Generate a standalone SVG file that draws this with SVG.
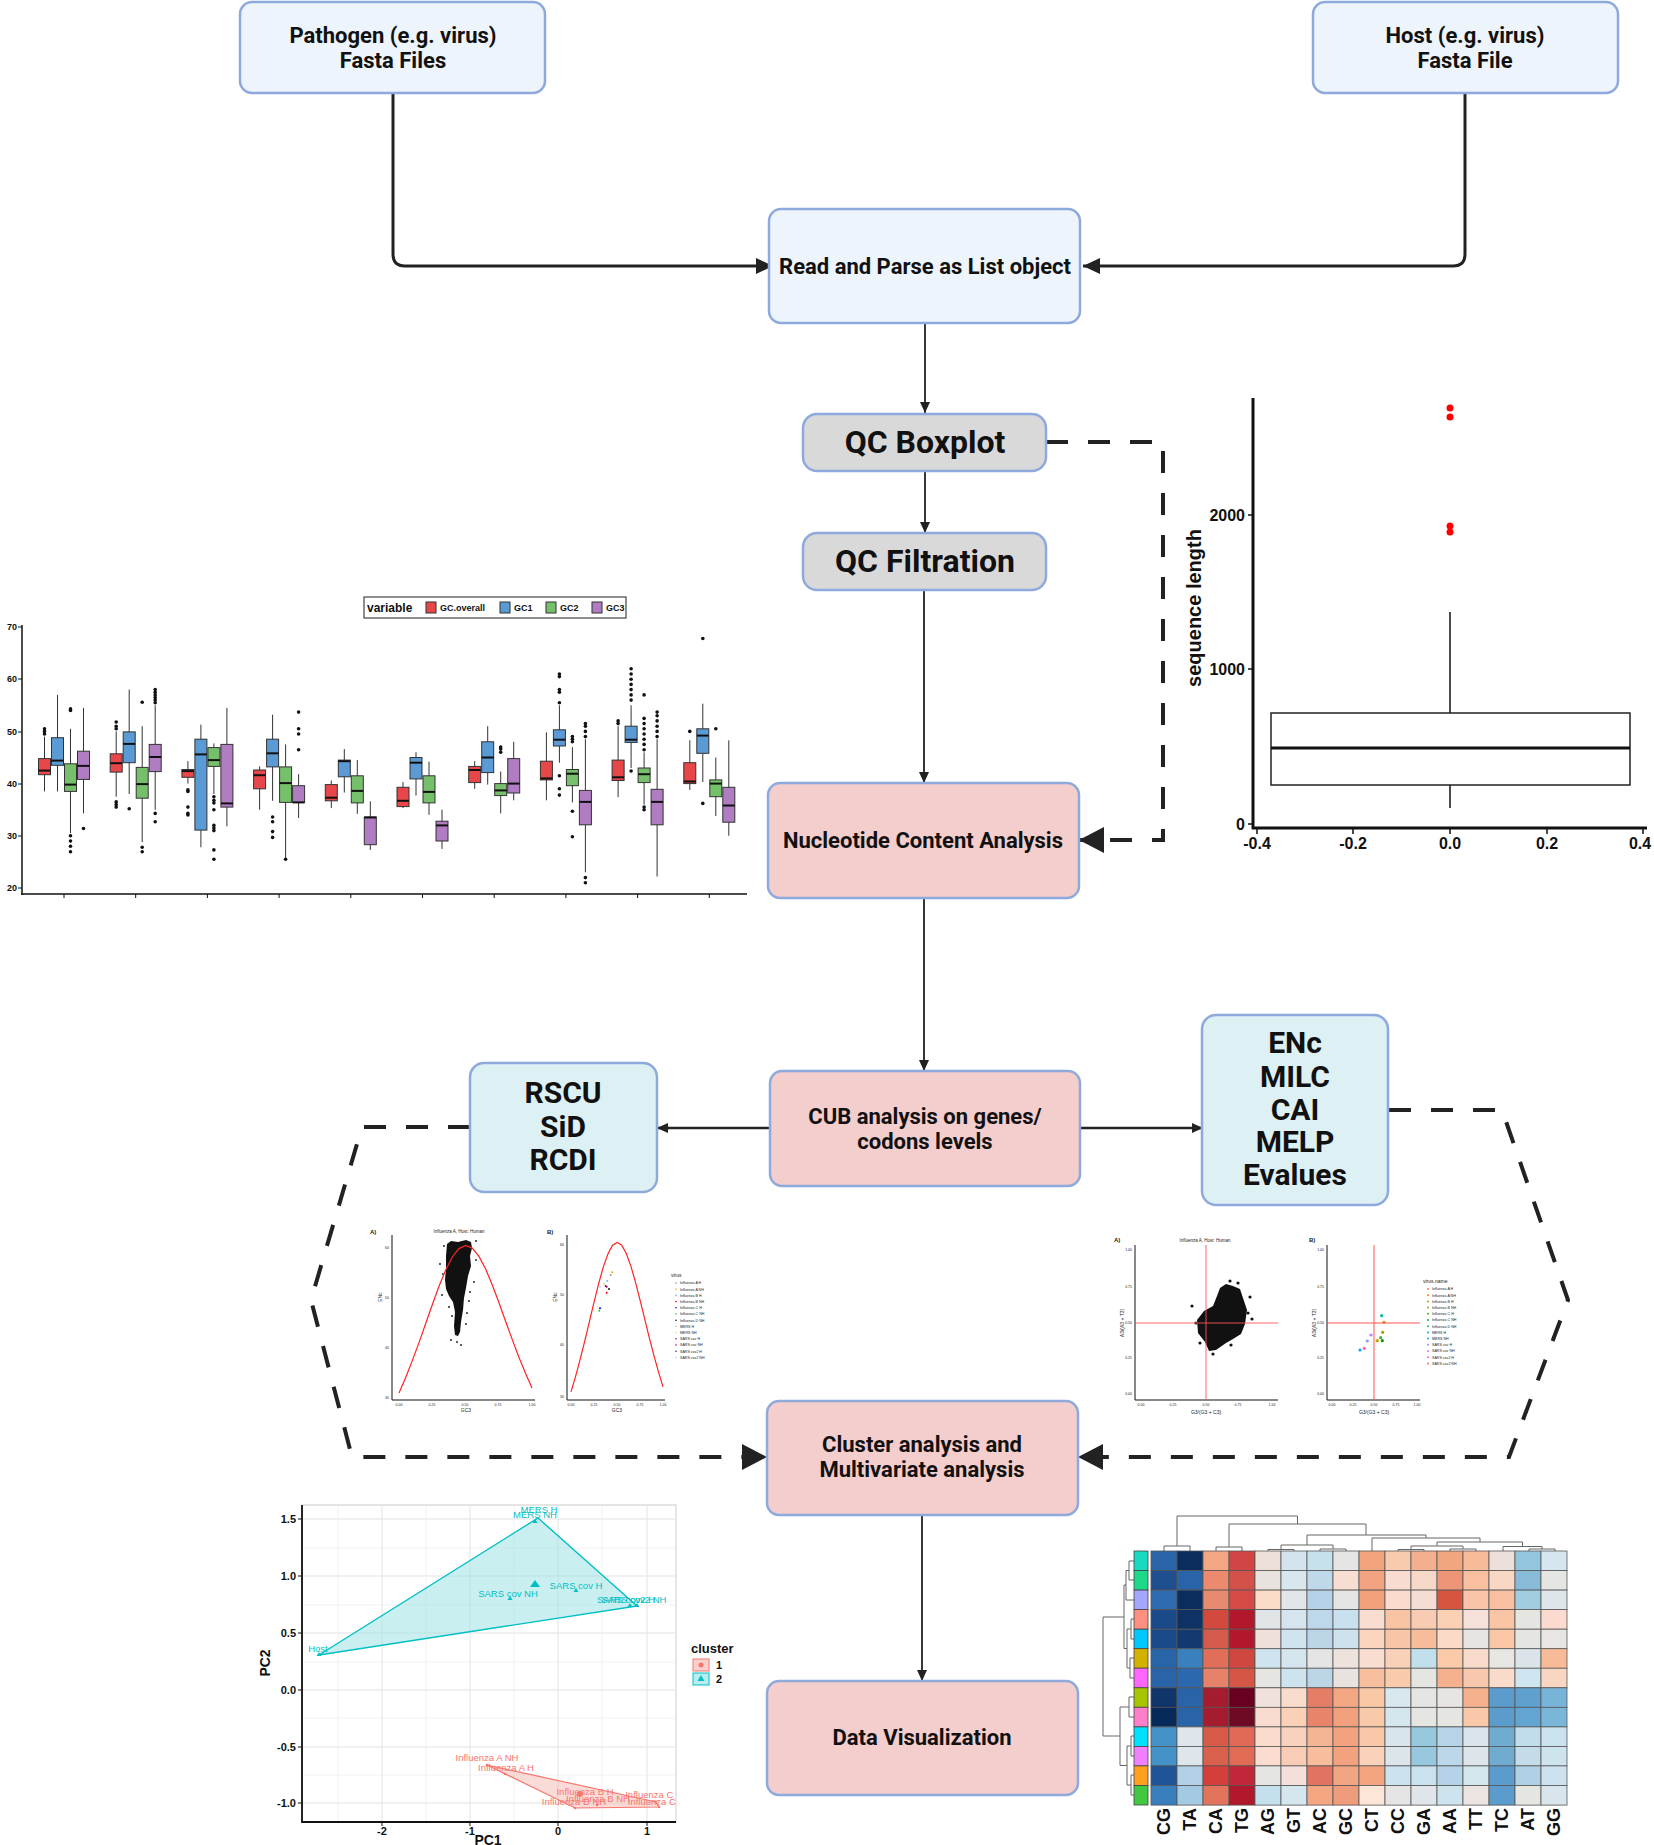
<svg xmlns="http://www.w3.org/2000/svg" width="1654" height="1845" viewBox="0 0 1654 1845">
<defs>
<style>
.nd{stroke:#8EA9DB;stroke-width:2.5}
.in{fill:#EEF4FB}.qc{fill:#D9D9D9}.pk{fill:#F4CDCD}.cy{fill:#DDF0F4}
.t{font-family:Roboto,"Liberation Sans",sans-serif;font-weight:700;fill:#111;text-anchor:middle}
.t20{font-size:22px}.t30{font-size:32px}.t28{font-size:30px}
.ln{fill:none;stroke:#222}
.ds{fill:none;stroke:#222;stroke-width:4;stroke-dasharray:22 20}
.ax{stroke:#111;fill:none}
.tk{font-family:"Liberation Sans",Arial,sans-serif;font-weight:700;fill:#111}
.wk{stroke:#333;stroke-width:1}
.bx{stroke:#333;stroke-width:1}
.md{stroke:#111;stroke-width:2}
.r{fill:#E8474A}.b{fill:#5B9BD5}.g{fill:#77C06B}.p{fill:#B07CC2}
.od circle{fill:#111}
.sm{font-family:"Liberation Sans",Arial,sans-serif;fill:#222}
.hm rect{width:26px;height:19.6px;stroke:#555;stroke-width:0.8}
.gr{stroke:#ebebeb}
</style>
<marker id="ah" markerUnits="userSpaceOnUse" markerWidth="12" markerHeight="10" refX="11" refY="5" orient="auto"><path d="M0,0 L11,5 L0,10 z" fill="#222"/></marker>
<marker id="aht" markerUnits="userSpaceOnUse" markerWidth="18" markerHeight="16" refX="17" refY="8" orient="auto"><path d="M0,0 L17,8 L0,16 z" fill="#222"/></marker>
<marker id="ahb" markerUnits="userSpaceOnUse" markerWidth="26" markerHeight="26" refX="25" refY="13" orient="auto"><path d="M0,0 L25,13 L0,26 z" fill="#222"/></marker>
<clipPath id="pcaclip"><rect x="302" y="1505" width="374" height="317"/></clipPath>
</defs>
<rect width="1654" height="1845" fill="#fff"/>

<!-- connectors -->
<g id="connectors">
<path class="ln" stroke-width="3" d="M393,93 V254 Q393,266 405,266 H773" marker-end="url(#aht)"/>
<path class="ln" stroke-width="3" d="M1465,93 V254 Q1465,266 1453,266 H1083" marker-end="url(#aht)"/>
<path class="ln" stroke-width="1.8" d="M925,323 V413" marker-end="url(#ah)"/>
<path class="ln" stroke-width="1.8" d="M925,471 V533" marker-end="url(#ah)"/>
<path class="ln" stroke-width="1.8" d="M924,590 V783" marker-end="url(#ah)"/>
<path class="ln" stroke-width="1.8" d="M924,898 V1071" marker-end="url(#ah)"/>
<path class="ln" stroke-width="2.5" d="M770,1128 H657" marker-end="url(#ah)"/>
<path class="ln" stroke-width="2.5" d="M1080,1128 H1203" marker-end="url(#ah)"/>
<path class="ln" stroke-width="1.8" d="M922,1515 V1681" marker-end="url(#ah)"/>
<path class="ds" d="M1046,442 H1163 V840 H1079" marker-end="url(#ahb)"/>
<path class="ds" d="M470,1127 H362 L311,1300 L352,1457 H767" marker-end="url(#ahb)"/>
<path class="ds" d="M1389,1110 H1502 L1568,1300 L1509,1457 H1078" marker-end="url(#ahb)"/>
</g>

<!-- nodes -->
<g id="node-pathogen"><rect class="nd in" x="240" y="2" width="305" height="91" rx="12"/><text class="t t20" x="393" y="43">Pathogen (e.g. virus)</text><text class="t t20" x="393" y="68">Fasta Files</text></g>
<g id="node-host"><rect class="nd in" x="1313" y="2" width="305" height="91" rx="12"/><text class="t t20" x="1465" y="43">Host (e.g. virus)</text><text class="t t20" x="1465" y="68">Fasta File</text></g>
<g id="node-read"><rect class="nd in" x="769" y="209" width="311" height="114" rx="12"/><text class="t t20" x="925" y="274">Read and Parse as List object</text></g>
<g id="node-qcbox"><rect class="nd qc" x="803" y="414" width="243" height="57" rx="14"/><text class="t t30" x="925" y="453">QC Boxplot</text></g>
<g id="node-qcfilt"><rect class="nd qc" x="803" y="533" width="243" height="57" rx="14"/><text class="t t30" x="925" y="572">QC Filtration</text></g>
<g id="node-nucleotide"><rect class="nd pk" x="768" y="783" width="311" height="115" rx="12"/><text class="t t20" x="923" y="848">Nucleotide Content Analysis</text></g>
<g id="node-cub"><rect class="nd pk" x="770" y="1071" width="310" height="115" rx="12"/><text class="t t20" x="925" y="1124">CUB analysis on genes/</text><text class="t t20" x="925" y="1149">codons levels</text></g>
<g id="node-rscu"><rect class="nd cy" x="470" y="1063" width="187" height="129" rx="14"/><text class="t t28" x="563" y="1103">RSCU</text><text class="t t28" x="563" y="1137">SiD</text><text class="t t28" x="563" y="1170">RCDI</text></g>
<g id="node-enc"><rect class="nd cy" x="1202" y="1015" width="186" height="190" rx="14"/><text class="t t28" x="1295" y="1053">ENc</text><text class="t t28" x="1295" y="1087">MILC</text><text class="t t28" x="1295" y="1120">CAI</text><text class="t t28" x="1295" y="1152">MELP</text><text class="t t28" x="1295" y="1185">Evalues</text></g>
<g id="node-cluster"><rect class="nd pk" x="767" y="1401" width="311" height="114" rx="12"/><text class="t t20" x="922" y="1452">Cluster analysis and</text><text class="t t20" x="922" y="1477">Multivariate analysis</text></g>
<g id="node-dataviz"><rect class="nd pk" x="767" y="1681" width="311" height="114" rx="12"/><text class="t t20" x="922" y="1745">Data Visualization</text></g>

<!-- sequence length boxplot -->
<g id="seqlen-plot">
<line class="ax" stroke-width="3" x1="1253" y1="398" x2="1253" y2="829"/>
<line class="ax" stroke-width="3" x1="1252" y1="828" x2="1647" y2="828"/>
<g class="ax" stroke-width="1.5"><path d="M1248,515 H1253 M1248,669 H1253 M1248,824 H1253 M1257,829 V834 M1353,829 V834 M1450,829 V834 M1547,829 V834 M1643,829 V834"/></g>
<g class="tk" font-size="16" text-anchor="end"><text x="1245" y="521">2000</text><text x="1245" y="675">1000</text><text x="1245" y="830">0</text></g>
<g class="tk" font-size="16" text-anchor="middle"><text x="1257" y="849">-0.4</text><text x="1353" y="849">-0.2</text><text x="1450" y="849">0.0</text><text x="1547" y="849">0.2</text><text x="1640" y="849">0.4</text></g>
<text class="tk" font-size="20" text-anchor="middle" transform="translate(1201,608) rotate(-90)">sequence length</text>
<line class="ax" stroke-width="1.5" x1="1450" y1="612" x2="1450" y2="713"/>
<line class="ax" stroke-width="1.5" x1="1450" y1="785" x2="1450" y2="808"/>
<rect x="1271" y="713" width="359" height="72" fill="#fff" stroke="#222" stroke-width="1.5"/>
<line class="ax" stroke-width="3" x1="1271" y1="748" x2="1630" y2="748"/>
<g fill="#f00"><circle cx="1450" cy="408" r="3.5"/><circle cx="1450" cy="417" r="3.5"/><circle cx="1450" cy="526" r="3.5"/><circle cx="1450" cy="532" r="3.5"/></g>
</g>

<!-- GC content boxplot -->
<g id="gc-plot">
<rect x="364" y="597" width="262" height="21" fill="#fff" stroke="#444" stroke-width="1.2"/>
<text class="tk" font-size="12" font-weight="400" x="367" y="612">variable</text>
<rect class="bx r" x="426" y="602" width="10" height="11"/><text class="tk" font-size="9" x="440" y="611">GC.overall</text>
<rect class="bx b" x="500" y="602" width="10" height="11"/><text class="tk" font-size="9" x="514" y="611">GC1</text>
<rect class="bx g" x="546" y="602" width="10" height="11"/><text class="tk" font-size="9" x="560" y="611">GC2</text>
<rect class="bx p" x="592" y="602" width="10" height="11"/><text class="tk" font-size="9" x="606" y="611">GC3</text>
<line class="ax" stroke-width="1.5" x1="22" y1="625" x2="22" y2="895"/>
<line class="ax" stroke-width="1.5" x1="21" y1="894" x2="747" y2="894"/>
<path class="ax" stroke-width="1" d="M18,627 H22 M18,679 H22 M18,732 H22 M18,784 H22 M18,836 H22 M18,888 H22 M64,894 V898 M135.7,894 V898 M207.4,894 V898 M279.1,894 V898 M350.8,894 V898 M422.5,894 V898 M494.2,894 V898 M565.9,894 V898 M637.6,894 V898 M709.3,894 V898"/>
<g class="tk" font-size="9" text-anchor="end"><text x="17" y="630">70</text><text x="17" y="682">60</text><text x="17" y="735">50</text><text x="17" y="787">40</text><text x="17" y="839">30</text><text x="17" y="891">20</text></g>

<g transform="translate(64,0)">
<line class="wk" x1="-19.5" y1="791.4" x2="-19.5" y2="736.6"/><rect class="bx r" x="-25.5" y="758.6" width="12" height="16.1"/><line class="md" x1="-25.5" x2="-13.5" y1="770.6" y2="770.6"/>
<line class="wk" x1="-6.5" y1="791.4" x2="-6.5" y2="694.9"/><rect class="bx b" x="-12.5" y="737.7" width="12" height="27.6"/><line class="md" x1="-12.5" x2="-0.5" y1="760.6" y2="760.6"/>
<line class="wk" x1="6.5" y1="833.2" x2="6.5" y2="728.8"/><rect class="bx g" x="0.5" y="763.8" width="12" height="27.6"/><line class="md" x1="0.5" x2="12.5" y1="784.6" y2="784.6"/>
<line class="wk" x1="19.5" y1="813.4" x2="19.5" y2="707.9"/><rect class="bx p" x="13.5" y="751.2" width="12" height="28.2"/><line class="md" x1="13.5" x2="25.5" y1="765.9" y2="765.9"/>
<g class="od"><circle cx="-19.5" cy="734" r="1.8"/><circle cx="-19.5" cy="731.4" r="1.8"/><circle cx="-19.5" cy="728.8" r="1.8"/><circle cx="6.5" cy="851.8" r="1.8"/><circle cx="6.5" cy="846.2" r="1.8"/><circle cx="6.5" cy="841" r="1.8"/><circle cx="6.5" cy="835.8" r="1.8"/><circle cx="6.5" cy="710.5" r="1.8"/><circle cx="6.5" cy="708.9" r="1.8"/><circle cx="19.5" cy="828.5" r="1.8"/></g>
</g>
<g transform="translate(135.7,0)">
<line class="wk" x1="-19.5" y1="796.7" x2="-19.5" y2="731.4"/><rect class="bx r" x="-25.5" y="753.8" width="12" height="18.3"/><line class="md" x1="-25.5" x2="-13.5" y1="763.2" y2="763.2"/>
<line class="wk" x1="-6.5" y1="794" x2="-6.5" y2="689.6"/><rect class="bx b" x="-12.5" y="731.9" width="12" height="30.8"/><line class="md" x1="-12.5" x2="-0.5" y1="743.9" y2="743.9"/>
<line class="wk" x1="6.5" y1="842.1" x2="6.5" y2="726.2"/><rect class="bx g" x="0.5" y="767.4" width="12" height="30.8"/><line class="md" x1="0.5" x2="12.5" y1="784.1" y2="784.1"/>
<line class="wk" x1="19.5" y1="809.7" x2="19.5" y2="705.3"/><rect class="bx p" x="13.5" y="744.4" width="12" height="27.2"/><line class="md" x1="13.5" x2="25.5" y1="757" y2="757"/>
<g class="od"><circle cx="-19.5" cy="728.8" r="1.8"/><circle cx="-19.5" cy="726.2" r="1.8"/><circle cx="-19.5" cy="722" r="1.8"/><circle cx="-19.5" cy="807.1" r="1.8"/><circle cx="-19.5" cy="804.5" r="1.8"/><circle cx="-19.5" cy="801.9" r="1.8"/><circle cx="-6.5" cy="808.7" r="1.8"/><circle cx="6.5" cy="851.8" r="1.8"/><circle cx="6.5" cy="847.3" r="1.8"/><circle cx="6.5" cy="702.2" r="1.8"/><circle cx="19.5" cy="702.7" r="1.8"/><circle cx="19.5" cy="700.1" r="1.8"/><circle cx="19.5" cy="697.5" r="1.8"/><circle cx="19.5" cy="694.9" r="1.8"/><circle cx="19.5" cy="692.2" r="1.8"/><circle cx="19.5" cy="689.6" r="1.8"/><circle cx="19.5" cy="821.7" r="1.8"/><circle cx="19.5" cy="813.4" r="1.8"/></g>
</g>
<g transform="translate(207.4,0)">
<line class="wk" x1="-19.5" y1="783.6" x2="-19.5" y2="761.2"/><rect class="bx r" x="-25.5" y="769.5" width="12" height="7.8"/><line class="md" x1="-25.5" x2="-13.5" y1="771.1" y2="771.1"/>
<line class="wk" x1="-6.5" y1="847.3" x2="-6.5" y2="724.6"/><rect class="bx b" x="-12.5" y="739.2" width="12" height="90.9"/><line class="md" x1="-12.5" x2="-0.5" y1="754.4" y2="754.4"/>
<line class="wk" x1="6.5" y1="794" x2="6.5" y2="743.4"/><rect class="bx g" x="0.5" y="747.6" width="12" height="18.8"/><line class="md" x1="0.5" x2="12.5" y1="760.1" y2="760.1"/>
<line class="wk" x1="19.5" y1="826.4" x2="19.5" y2="707.9"/><rect class="bx p" x="13.5" y="744.4" width="12" height="62.7"/><line class="md" x1="13.5" x2="25.5" y1="803.4" y2="803.4"/>
<g class="od"><circle cx="-19.5" cy="791.4" r="1.8"/><circle cx="-19.5" cy="789.9" r="1.8"/><circle cx="-19.5" cy="807.1" r="1.8"/><circle cx="-19.5" cy="813.4" r="1.8"/><circle cx="-19.5" cy="814.9" r="1.8"/><circle cx="6.5" cy="796.7" r="1.8"/><circle cx="6.5" cy="800.3" r="1.8"/><circle cx="6.5" cy="802.9" r="1.8"/><circle cx="6.5" cy="809.7" r="1.8"/><circle cx="6.5" cy="825.4" r="1.8"/><circle cx="6.5" cy="828" r="1.8"/><circle cx="6.5" cy="830.6" r="1.8"/><circle cx="6.5" cy="849.9" r="1.8"/><circle cx="6.5" cy="859.3" r="1.8"/></g>
</g>
<g transform="translate(279.1,0)">
<line class="wk" x1="-19.5" y1="809.7" x2="-19.5" y2="766.4"/><rect class="bx r" x="-25.5" y="770" width="12" height="18.8"/><line class="md" x1="-25.5" x2="-13.5" y1="775.2" y2="775.2"/>
<line class="wk" x1="-6.5" y1="800.8" x2="-6.5" y2="714.7"/><rect class="bx b" x="-12.5" y="739.2" width="12" height="27.7"/><line class="md" x1="-12.5" x2="-0.5" y1="753.3" y2="753.3"/>
<line class="wk" x1="6.5" y1="859.3" x2="6.5" y2="744.4"/><rect class="bx g" x="0.5" y="766.9" width="12" height="35.5"/><line class="md" x1="0.5" x2="12.5" y1="783.1" y2="783.1"/>
<line class="wk" x1="19.5" y1="818" x2="19.5" y2="774.2"/><rect class="bx p" x="13.5" y="785.7" width="12" height="16.7"/><line class="md" x1="13.5" x2="25.5" y1="802.4" y2="802.4"/>
<g class="od"><circle cx="-6.5" cy="817" r="1.8"/><circle cx="-6.5" cy="821.7" r="1.8"/><circle cx="-6.5" cy="831.6" r="1.8"/><circle cx="-6.5" cy="837.4" r="1.8"/><circle cx="6.5" cy="859.3" r="1.8"/><circle cx="19.5" cy="749.7" r="1.8"/><circle cx="19.5" cy="734" r="1.8"/><circle cx="19.5" cy="728.8" r="1.8"/><circle cx="19.5" cy="712.1" r="1.8"/></g>
</g>
<g transform="translate(350.8,0)">
<line class="wk" x1="-19.5" y1="808.1" x2="-19.5" y2="780.5"/><rect class="bx r" x="-25.5" y="784.6" width="12" height="16.2"/><line class="md" x1="-25.5" x2="-13.5" y1="797.7" y2="797.7"/>
<line class="wk" x1="-6.5" y1="792.5" x2="-6.5" y2="749.1"/><rect class="bx b" x="-12.5" y="760.1" width="12" height="16.7"/><line class="md" x1="-12.5" x2="-0.5" y1="761.2" y2="761.2"/>
<line class="wk" x1="6.5" y1="813.9" x2="6.5" y2="760.1"/><rect class="bx g" x="0.5" y="775.8" width="12" height="27.1"/><line class="md" x1="0.5" x2="12.5" y1="790.9" y2="790.9"/>
<line class="wk" x1="19.5" y1="849.9" x2="19.5" y2="801.3"/><rect class="bx p" x="13.5" y="817" width="12" height="27.7"/><line class="md" x1="13.5" x2="25.5" y1="817.5" y2="817.5"/>
</g>
<g transform="translate(422.5,0)">
<line class="wk" x1="-19.5" y1="808.1" x2="-19.5" y2="782"/><rect class="bx r" x="-25.5" y="787.3" width="12" height="19.3"/><line class="md" x1="-25.5" x2="-13.5" y1="800.8" y2="800.8"/>
<line class="wk" x1="-6.5" y1="795.6" x2="-6.5" y2="752.3"/><rect class="bx b" x="-12.5" y="757.5" width="12" height="21.4"/><line class="md" x1="-12.5" x2="-0.5" y1="762.7" y2="762.7"/>
<line class="wk" x1="6.5" y1="814.9" x2="6.5" y2="761.7"/><rect class="bx g" x="0.5" y="775.8" width="12" height="27.1"/><line class="md" x1="0.5" x2="12.5" y1="791.9" y2="791.9"/>
<line class="wk" x1="19.5" y1="848.9" x2="19.5" y2="809.7"/><rect class="bx p" x="13.5" y="821.2" width="12" height="19.8"/><line class="md" x1="13.5" x2="25.5" y1="825.4" y2="825.4"/>
</g>
<g transform="translate(494.2,0)">
<line class="wk" x1="-19.5" y1="788.8" x2="-19.5" y2="761.2"/><rect class="bx r" x="-25.5" y="766.4" width="12" height="16.2"/><line class="md" x1="-25.5" x2="-13.5" y1="770" y2="770"/>
<line class="wk" x1="-6.5" y1="784.6" x2="-6.5" y2="726.2"/><rect class="bx b" x="-12.5" y="741.8" width="12" height="30.8"/><line class="md" x1="-12.5" x2="-0.5" y1="757.5" y2="757.5"/>
<line class="wk" x1="6.5" y1="813.4" x2="6.5" y2="771.6"/><rect class="bx g" x="0.5" y="783.6" width="12" height="12"/><line class="md" x1="0.5" x2="12.5" y1="790.4" y2="790.4"/>
<line class="wk" x1="19.5" y1="800.3" x2="19.5" y2="741.8"/><rect class="bx p" x="13.5" y="758.6" width="12" height="34.4"/><line class="md" x1="13.5" x2="25.5" y1="783.6" y2="783.6"/>
<g class="od"><circle cx="6.5" cy="752.3" r="1.8"/><circle cx="6.5" cy="749.1" r="1.8"/><circle cx="6.5" cy="747.1" r="1.8"/></g>
</g>
<g transform="translate(565.9,0)">
<line class="wk" x1="-19.5" y1="800.3" x2="-19.5" y2="732.4"/><rect class="bx r" x="-25.5" y="761.2" width="12" height="18.7"/><line class="md" x1="-25.5" x2="-13.5" y1="778.4" y2="778.4"/>
<line class="wk" x1="-6.5" y1="762.7" x2="-6.5" y2="705.3"/><rect class="bx b" x="-12.5" y="729.8" width="12" height="16.2"/><line class="md" x1="-12.5" x2="-0.5" y1="739.7" y2="739.7"/>
<line class="wk" x1="6.5" y1="802.4" x2="6.5" y2="747.1"/><rect class="bx g" x="0.5" y="769.5" width="12" height="16.2"/><line class="md" x1="0.5" x2="12.5" y1="773.7" y2="773.7"/>
<line class="wk" x1="19.5" y1="872.3" x2="19.5" y2="739.2"/><rect class="bx p" x="13.5" y="790.4" width="12" height="34.4"/><line class="md" x1="13.5" x2="25.5" y1="801.9" y2="801.9"/>
<g class="od"><circle cx="-6.5" cy="702.7" r="1.8"/><circle cx="-6.5" cy="692.2" r="1.8"/><circle cx="-6.5" cy="689.6" r="1.8"/><circle cx="-6.5" cy="676.6" r="1.8"/><circle cx="-6.5" cy="674" r="1.8"/><circle cx="-6.5" cy="775.8" r="1.8"/><circle cx="-6.5" cy="788.8" r="1.8"/><circle cx="-6.5" cy="795.1" r="1.8"/><circle cx="6.5" cy="741.8" r="1.8"/><circle cx="6.5" cy="739.2" r="1.8"/><circle cx="6.5" cy="736.6" r="1.8"/><circle cx="6.5" cy="811.3" r="1.8"/><circle cx="6.5" cy="836.8" r="1.8"/><circle cx="19.5" cy="736.6" r="1.8"/><circle cx="19.5" cy="731.4" r="1.8"/><circle cx="19.5" cy="726.2" r="1.8"/><circle cx="19.5" cy="723.6" r="1.8"/><circle cx="19.5" cy="882.8" r="1.8"/><circle cx="19.5" cy="877.6" r="1.8"/></g>
</g>
<g transform="translate(637.6,0)">
<line class="wk" x1="-19.5" y1="797.2" x2="-19.5" y2="726.2"/><rect class="bx r" x="-25.5" y="760.1" width="12" height="20.4"/><line class="md" x1="-25.5" x2="-13.5" y1="777.3" y2="777.3"/>
<line class="wk" x1="-6.5" y1="768" x2="-6.5" y2="705.3"/><rect class="bx b" x="-12.5" y="726.2" width="12" height="16.2"/><line class="md" x1="-12.5" x2="-0.5" y1="739.7" y2="739.7"/>
<line class="wk" x1="6.5" y1="804.5" x2="6.5" y2="752.3"/><rect class="bx g" x="0.5" y="768" width="12" height="14.6"/><line class="md" x1="0.5" x2="12.5" y1="774.2" y2="774.2"/>
<line class="wk" x1="19.5" y1="876.5" x2="19.5" y2="739.2"/><rect class="bx p" x="13.5" y="789.3" width="12" height="35.5"/><line class="md" x1="13.5" x2="25.5" y1="801.9" y2="801.9"/>
<g class="od"><circle cx="-19.5" cy="723.6" r="1.8"/><circle cx="-19.5" cy="720.9" r="1.8"/><circle cx="-6.5" cy="700.1" r="1.8"/><circle cx="-6.5" cy="694.9" r="1.8"/><circle cx="-6.5" cy="689.6" r="1.8"/><circle cx="-6.5" cy="684.4" r="1.8"/><circle cx="-6.5" cy="679.2" r="1.8"/><circle cx="-6.5" cy="674" r="1.8"/><circle cx="-6.5" cy="668.8" r="1.8"/><circle cx="-6.5" cy="771" r="1.8"/><circle cx="6.5" cy="749.7" r="1.8"/><circle cx="6.5" cy="744.4" r="1.8"/><circle cx="6.5" cy="739.2" r="1.8"/><circle cx="6.5" cy="734" r="1.8"/><circle cx="6.5" cy="728.8" r="1.8"/><circle cx="6.5" cy="723.6" r="1.8"/><circle cx="6.5" cy="718.4" r="1.8"/><circle cx="6.5" cy="807.1" r="1.8"/><circle cx="6.5" cy="809.7" r="1.8"/><circle cx="6.5" cy="694.9" r="1.8"/><circle cx="19.5" cy="736.6" r="1.8"/><circle cx="19.5" cy="731.4" r="1.8"/><circle cx="19.5" cy="726.2" r="1.8"/><circle cx="19.5" cy="720.9" r="1.8"/><circle cx="19.5" cy="715.7" r="1.8"/><circle cx="19.5" cy="712.1" r="1.8"/></g>
</g>
<g transform="translate(709.3,0)">
<line class="wk" x1="-19.5" y1="789.9" x2="-19.5" y2="740.3"/><rect class="bx r" x="-25.5" y="762.7" width="12" height="20.9"/><line class="md" x1="-25.5" x2="-13.5" y1="781.5" y2="781.5"/>
<line class="wk" x1="-6.5" y1="782" x2="-6.5" y2="703.7"/><rect class="bx b" x="-12.5" y="728.8" width="12" height="24.5"/><line class="md" x1="-12.5" x2="-0.5" y1="735.6" y2="735.6"/>
<line class="wk" x1="6.5" y1="816" x2="6.5" y2="757.5"/><rect class="bx g" x="0.5" y="779.9" width="12" height="16.8"/><line class="md" x1="0.5" x2="12.5" y1="783.6" y2="783.6"/>
<line class="wk" x1="19.5" y1="835.8" x2="19.5" y2="740.3"/><rect class="bx p" x="13.5" y="787.3" width="12" height="34.9"/><line class="md" x1="13.5" x2="25.5" y1="805.5" y2="805.5"/>
<g class="od"><circle cx="-19.5" cy="731.4" r="1.8"/><circle cx="-6.5" cy="803.4" r="1.8"/><circle cx="-6.5" cy="638.5" r="1.8"/><circle cx="6.5" cy="728.8" r="1.8"/></g>
</g>
</g>

<!-- ENc plot A -->
<g id="enc-plot-a">
<path class="ax" stroke-width="1" d="M392,1235 V1400 H535"/>
<text class="sm" font-size="6" font-weight="700" x="370" y="1234">A)</text>
<text class="sm" font-size="4.5" text-anchor="middle" x="459" y="1233">Influenza A, Host: Human</text>
<g class="sm" font-size="3.5" text-anchor="end"><text x="389" y="1249">60</text><text x="389" y="1299">50</text><text x="389" y="1349">40</text><text x="389" y="1399">30</text></g>
<g class="sm" font-size="3.5" text-anchor="middle"><text x="399" y="1406">0.00</text><text x="432" y="1406">0.25</text><text x="465" y="1406">0.50</text><text x="498" y="1406">0.75</text><text x="532" y="1406">1.00</text></g>
<text class="sm" font-size="5" text-anchor="middle" x="466" y="1412">GC3</text>
<text class="sm" font-size="5" text-anchor="middle" transform="translate(382,1297) rotate(-90)">ENc</text>
<path fill="#111" d="M447,1244 L451,1241 L458,1242 L466,1240 L471,1242 L472,1248 L470,1256 L471,1266 L468,1276 L466,1288 L464,1298 L463,1310 L461,1322 L460,1332 L458,1336 L455,1335 L454,1326 L455,1312 L453,1302 L449,1296 L446,1289 L445,1280 L446,1268 L446,1256 Z"/>
<g fill="#111"><circle cx="440" cy="1264" r="0.9"/><circle cx="442" cy="1295" r="0.9"/><circle cx="476" cy="1260" r="0.9"/><circle cx="474" cy="1282" r="0.9"/><circle cx="469" cy="1301" r="0.9"/><circle cx="467" cy="1313" r="0.9"/><circle cx="466" cy="1324" r="0.9"/><circle cx="451" cy="1340" r="0.9"/><circle cx="457" cy="1342" r="0.9"/><circle cx="449" cy="1307" r="0.9"/><circle cx="476" cy="1241" r="0.9"/><circle cx="444" cy="1246" r="0.9"/><circle cx="470" cy="1292" r="0.9"/><circle cx="461" cy="1345" r="0.9"/><circle cx="443" cy="1274" r="0.9"/><circle cx="452" cy="1316" r="0.9"/></g>
<polyline fill="none" stroke="#f22" stroke-width="1.2" points="399,1393 405.7,1377.5 412.3,1360.6 419,1342.6 425.6,1323.8 432.3,1304.8 438.9,1286.5 445.6,1270.2 452.2,1257.2 458.9,1248.6 465.5,1245.5 472.2,1248.1 478.8,1256.2 485.5,1268.7 492.1,1284.5 498.8,1302.3 505.4,1320.8 512.1,1339.1 518.7,1356.7 525.4,1373 532,1388"/>
</g>

<!-- ENc plot B -->
<g id="enc-plot-b">
<path class="ax" stroke-width="1" d="M567,1235 V1400 H665"/>
<text class="sm" font-size="6" font-weight="700" x="547" y="1234">B)</text>
<g class="sm" font-size="3.5" text-anchor="end"><text x="564" y="1246">60</text><text x="564" y="1296">50</text><text x="564" y="1346">40</text><text x="564" y="1398">30</text></g>
<g class="sm" font-size="3.5" text-anchor="middle"><text x="571" y="1406">0.00</text><text x="594" y="1406">0.25</text><text x="617" y="1406">0.50</text><text x="640" y="1406">0.75</text><text x="663" y="1406">1.00</text></g>
<text class="sm" font-size="5" text-anchor="middle" x="617" y="1412">GC3</text>
<text class="sm" font-size="5" text-anchor="middle" transform="translate(557,1297) rotate(-90)">ENc</text>
<polyline fill="none" stroke="#f22" stroke-width="1.2" points="571,1391.9 575.6,1376.3 580.2,1359.1 584.8,1340.8 589.4,1321.7 594,1302.4 598.6,1283.9 603.2,1267.4 607.8,1254.2 612.4,1245.5 617,1242.4 621.6,1245 626.2,1253.2 630.8,1265.9 635.4,1281.9 640,1299.9 644.6,1318.7 649.2,1337.3 653.8,1355.1 658.4,1371.7 663,1386.9"/>
<g><circle cx="612.3" cy="1272.3" r="1" fill="#f0a000"/><circle cx="610.7" cy="1275" r="1" fill="#999"/><circle cx="607.3" cy="1281" r="1" fill="#5bc0ff"/><circle cx="604" cy="1284.3" r="1" fill="#c8f060"/><circle cx="600" cy="1286.7" r="1" fill="#9cdcff"/><circle cx="605.7" cy="1286" r="1" fill="#8000a0"/><circle cx="606.7" cy="1286.7" r="1" fill="#a00060"/><circle cx="609" cy="1289" r="1" fill="#111"/><circle cx="606.7" cy="1292.7" r="1" fill="#f00"/><circle cx="600" cy="1308.3" r="1" fill="#00f"/><circle cx="599.3" cy="1310.7" r="1" fill="#20d020"/></g>
<text class="sm" font-size="5" x="671" y="1277">virus</text>
<g class="sm" font-size="3.6">
<circle cx="676" cy="1283" r="0.8" fill="#999"/><text x="680" y="1284.3">Influenza A H</text>
<circle cx="676" cy="1289.2" r="0.8" fill="#f0a000"/><text x="680" y="1290.5">Influenza A NH</text>
<circle cx="676" cy="1295.4" r="0.8" fill="#5bc0ff"/><text x="680" y="1296.7">Influenza B H</text>
<circle cx="676" cy="1301.6" r="0.8" fill="#f00"/><text x="680" y="1302.9">Influenza B NH</text>
<circle cx="676" cy="1307.8" r="0.8" fill="#00f"/><text x="680" y="1309.1">Influenza C H</text>
<circle cx="676" cy="1314" r="0.8" fill="#20d020"/><text x="680" y="1315.3">Influenza C NH</text>
<circle cx="676" cy="1320.2" r="0.8" fill="#111"/><text x="680" y="1321.5">Influenza D NH</text>
<circle cx="676" cy="1326.4" r="0.8" fill="#ccc"/><text x="680" y="1327.7">MERS H</text>
<circle cx="676" cy="1332.6" r="0.8" fill="#c8f060"/><text x="680" y="1333.9">MERS NH</text>
<circle cx="676" cy="1338.8" r="0.8" fill="#8000a0"/><text x="680" y="1340.1">SARS cov H</text>
<circle cx="676" cy="1345" r="0.8" fill="#a00060"/><text x="680" y="1346.3">SARS cov NH</text>
<circle cx="676" cy="1351.2" r="0.8" fill="#333"/><text x="680" y="1352.5">SARS cov2 H</text>
<circle cx="676" cy="1357.4" r="0.8" fill="#9cdcff"/><text x="680" y="1358.7">SARS cov2 NH</text>
</g>
</g>

<!-- Neutrality plot A -->
<g id="neut-plot-a">
<path class="ax" stroke-width="1" d="M1135,1245 V1400 H1278"/>
<text class="sm" font-size="6" font-weight="700" x="1114" y="1242">A)</text>
<text class="sm" font-size="4.5" text-anchor="middle" x="1205" y="1242">Influenza A, Host: Human</text>
<g class="sm" font-size="3.5" text-anchor="end"><text x="1132" y="1251">1.00</text><text x="1132" y="1288">0.75</text><text x="1132" y="1324">0.50</text><text x="1132" y="1359">0.25</text><text x="1132" y="1395">0.00</text></g>
<g class="sm" font-size="3.5" text-anchor="middle"><text x="1141" y="1406">0.00</text><text x="1173" y="1406">0.25</text><text x="1206" y="1406">0.50</text><text x="1238" y="1406">0.75</text><text x="1272" y="1406">1.00</text></g>
<text class="sm" font-size="5" text-anchor="middle" x="1206" y="1414">G3/(G3 + C3)</text>
<text class="sm" font-size="5" text-anchor="middle" transform="translate(1124,1323) rotate(-90)">A3/(A3 + T3)</text>
<path fill="#111" d="M1220,1288 L1226,1284 L1233,1286 L1240,1289 L1243,1298 L1247,1310 L1245,1324 L1241,1334 L1233,1339 L1226,1343 L1216,1350 L1209,1351 L1205,1342 L1198,1333 L1197,1320 L1204,1311 L1213,1306 L1217,1296 Z"/>
<g fill="#111"><circle cx="1192" cy="1306" r="1.6"/><circle cx="1250" cy="1297" r="1.6"/><circle cx="1238" cy="1283" r="1.6"/><circle cx="1248" cy="1313" r="1.6"/><circle cx="1200" cy="1343" r="1.6"/><circle cx="1213" cy="1354" r="1.6"/><circle cx="1231" cy="1345" r="1.6"/><circle cx="1196" cy="1323" r="1.6"/><circle cx="1252" cy="1319" r="1.6"/><circle cx="1230" cy="1281" r="1.6"/></g>
<path stroke="#f55" stroke-width="1" opacity="0.9" d="M1206,1245 V1400 M1135,1323 H1278"/>
</g>

<!-- Neutrality plot B -->
<g id="neut-plot-b">
<path class="ax" stroke-width="1" d="M1327,1245 V1400 H1420"/>
<text class="sm" font-size="6" font-weight="700" x="1309" y="1242">B)</text>
<g class="sm" font-size="3.5" text-anchor="end"><text x="1324" y="1251">1.00</text><text x="1324" y="1288">0.75</text><text x="1324" y="1324">0.50</text><text x="1324" y="1359">0.25</text><text x="1324" y="1395">0.00</text></g>
<g class="sm" font-size="3.5" text-anchor="middle"><text x="1332" y="1406">0.00</text><text x="1353" y="1406">0.25</text><text x="1374" y="1406">0.50</text><text x="1396" y="1406">0.75</text><text x="1417" y="1406">1.00</text></g>
<text class="sm" font-size="5" text-anchor="middle" x="1374" y="1414">G3/(G3 + C3)</text>
<text class="sm" font-size="5" text-anchor="middle" transform="translate(1316,1323) rotate(-90)">A3/(A3 + T3)</text>
<path stroke="#f55" stroke-width="1" d="M1374,1245 V1400 M1327,1323 H1420"/>
<g><circle cx="1381.7" cy="1315.7" r="1.6" fill="#00C0A0"/><circle cx="1384" cy="1322.3" r="1.6" fill="#F08020"/><circle cx="1382.7" cy="1332.3" r="1.6" fill="#A0A000"/><circle cx="1380.7" cy="1337.7" r="1.6" fill="#3CB44B"/><circle cx="1382.3" cy="1340.7" r="1.6" fill="#00A000"/><circle cx="1377.3" cy="1340.7" r="1.6" fill="#C8A000"/><circle cx="1371" cy="1335" r="1.6" fill="#C77CFF"/><circle cx="1367.3" cy="1341" r="1.6" fill="#8C9CFF"/><circle cx="1364.3" cy="1348.3" r="1.6" fill="#FF61C3"/><circle cx="1360" cy="1350" r="1.6" fill="#00A9FF"/></g>
<text class="sm" font-size="5" x="1423" y="1283">virus.name</text>
<g class="sm" font-size="3.6">
<circle cx="1428" cy="1289" r="1" fill="#F8766D"/><text x="1432" y="1290.3">Influenza A H</text>
<circle cx="1428" cy="1295.2" r="1" fill="#E58700"/><text x="1432" y="1296.5">Influenza A NH</text>
<circle cx="1428" cy="1301.4" r="1" fill="#C99800"/><text x="1432" y="1302.7">Influenza B H</text>
<circle cx="1428" cy="1307.6" r="1" fill="#A3A500"/><text x="1432" y="1308.9">Influenza B NH</text>
<circle cx="1428" cy="1313.8" r="1" fill="#39B600"/><text x="1432" y="1315.1">Influenza C H</text>
<circle cx="1428" cy="1320" r="1" fill="#00BB4E"/><text x="1432" y="1321.3">Influenza C NH</text>
<circle cx="1428" cy="1326.2" r="1" fill="#00BF7D"/><text x="1432" y="1327.5">Influenza D NH</text>
<circle cx="1428" cy="1332.4" r="1" fill="#00C1A3"/><text x="1432" y="1333.7">MERS H</text>
<circle cx="1428" cy="1338.6" r="1" fill="#00A9FF"/><text x="1432" y="1339.9">MERS NH</text>
<circle cx="1428" cy="1344.8" r="1" fill="#8C9CFF"/><text x="1432" y="1346.1">SARS cov H</text>
<circle cx="1428" cy="1351" r="1" fill="#C77CFF"/><text x="1432" y="1352.3">SARS cov NH</text>
<circle cx="1428" cy="1357.2" r="1" fill="#FF61C3"/><text x="1432" y="1358.5">SARS cov2 H</text>
<circle cx="1428" cy="1363.4" r="1" fill="#FF6C91"/><text x="1432" y="1364.7">SARS cov2 NH</text>
</g>
</g>

<!-- PCA cluster plot -->
<g id="pca-plot">
<rect x="302" y="1505" width="374" height="317" fill="#fff" stroke="#ccc" stroke-width="1"/>
<g class="gr" stroke-width="0.7"><path d="M338,1505 V1822 M426,1505 V1822 M514,1505 V1822 M602,1505 V1822 M302,1548 H676 M302,1605 H676 M302,1662 H676 M302,1718 H676 M302,1775 H676"/></g>
<g class="gr" stroke-width="1.4"><path d="M382,1505 V1822 M470,1505 V1822 M558,1505 V1822 M647,1505 V1822 M302,1519 H676 M302,1576 H676 M302,1633 H676 M302,1690 H676 M302,1747 H676 M302,1803 H676"/></g>
<g clip-path="url(#pcaclip)">
<polygon points="319,1655 538,1518 637,1606" fill="#9fe2e6" fill-opacity="0.55" stroke="#00BFC4" stroke-width="1.4"/>
<polygon points="487,1765 656,1802 659,1807 575,1808" fill="#f5b8b2" fill-opacity="0.5" stroke="#F8766D" stroke-width="1.2"/>
<g fill="#00BFC4"><path d="M535,1519 l2.5,4 h-5z"/><path d="M510,1596 l2.5,4 h-5z"/><path d="M576,1588 l2.5,4 h-5z"/><path d="M630,1603 l2.5,4 h-5z"/><path d="M637,1603 l2.5,4 h-5z"/><path d="M319,1652 l2.5,4 h-5z"/><path d="M535,1580 l5,7 h-10z"/></g>
<g fill="#F8766D"><circle cx="487" cy="1765" r="1.3"/><circle cx="505" cy="1774" r="1.3"/><circle cx="575" cy="1808" r="1.3"/><circle cx="597" cy="1805" r="1.3"/><circle cx="656" cy="1802" r="1.3"/><circle cx="659" cy="1807" r="1.3"/><circle cx="580" cy="1794" r="3"/></g>
<g class="sm" font-size="9.5" text-anchor="middle"><text x="539" y="1513" fill="#00BFC4">MERS H</text><text x="535" y="1518" fill="#00BFC4">MERS NH</text><text x="576" y="1589" fill="#00BFC4">SARS cov H</text><text x="508" y="1597" fill="#00BFC4">SARS cov NH</text><text x="626" y="1603" fill="#00BFC4">SARS cov2 H</text><text x="634" y="1603" fill="#00BFC4">SARS cov2 NH</text><text x="318" y="1652" fill="#00BFC4">Host</text></g>
<g class="sm" font-size="9.5" text-anchor="middle"><text x="487" y="1761" fill="#F8766D">Influenza A NH</text><text x="506" y="1771" fill="#F8766D">Influenza A H</text><text x="585" y="1795" fill="#F8766D">Influenza B H</text><text x="654" y="1798" fill="#F8766D">Influenza C H</text><text x="598" y="1802" fill="#F8766D">Influenza B NH</text><text x="660" y="1805" fill="#F8766D">Influenza C NH</text><text x="574" y="1805" fill="#F8766D">Influenza D NH</text></g>
</g>
<path class="ax" stroke-width="1.8" d="M302,1505 V1822 H676"/>
<path class="ax" stroke-width="1" d="M298,1519 H302 M298,1576 H302 M298,1633 H302 M298,1690 H302 M298,1747 H302 M298,1803 H302 M382,1822 V1826 M470,1822 V1826 M558,1822 V1826 M647,1822 V1826"/>
<g class="tk" font-size="11" text-anchor="end"><text x="296" y="1523">1.5</text><text x="296" y="1580">1.0</text><text x="296" y="1637">0.5</text><text x="296" y="1694">0.0</text><text x="296" y="1751">-0.5</text><text x="296" y="1807">-1.0</text></g>
<g class="tk" font-size="11" text-anchor="middle"><text x="382" y="1835">-2</text><text x="470" y="1835">-1</text><text x="558" y="1835">0</text><text x="647" y="1835">1</text></g>
<text class="tk" font-size="14" text-anchor="middle" x="488" y="1845">PC1</text>
<text class="tk" font-size="14" text-anchor="middle" transform="translate(270,1663) rotate(-90)">PC2</text>
<text class="tk" font-size="13" x="691" y="1653">cluster</text>
<rect x="693" y="1659" width="16" height="12" fill="#f8d0cc" stroke="#F8766D"/><circle cx="701" cy="1665" r="2.5" fill="#F8766D"/>
<rect x="693" y="1673" width="16" height="12" fill="#b8ecef" stroke="#00BFC4"/><path d="M701,1675 l3.5,6 h-7z" fill="#00BFC4"/>
<text class="tk" font-size="11" x="716" y="1669">1</text><text class="tk" font-size="11" x="716" y="1683">2</text>
</g>

<!-- Heatmap -->
<g id="heatmap">
<path fill="none" stroke="#666" stroke-width="1" d="M1164,1551 V1546 H1190 V1551 M1216,1551 V1547 H1242 V1551 M1268,1551 V1549.5 H1294 V1551 M1320,1551 V1549 H1346 V1551 M1281,1549.5 V1545 H1333 V1549 M1398,1551 V1549.5 H1424 V1551 M1450,1551 V1549 H1476 V1551 M1411,1549.5 V1546 H1463 V1549 M1529,1551 V1549 H1555 V1551 M1503,1551 V1546.5 H1542 V1549 M1437,1546 V1542 H1522.5 V1546.5 M1372,1551 V1538 H1480 V1542 M1307,1545 V1535 H1426 V1538 M1229,1547 V1524 H1366 V1535 M1177,1546 V1516 H1297.5 V1524"/>
<path fill="none" stroke="#666" stroke-width="1" d="M1134,1561 H1129 V1580 H1134 M1129,1570.5 H1126 V1600 H1134 M1134,1619 H1131 V1639 H1134 M1134,1658 H1130 V1678 H1134 M1131,1629 H1127 V1668 H1130 M1126,1585 H1124 V1648.5 H1127 M1134,1697 H1129 V1717 H1134 M1134,1736 H1131 V1756 H1134 M1134,1775 H1131 V1795 H1134 M1131,1746 H1127 V1785 H1131 M1129,1707 H1120 V1765.5 H1127 M1124,1617 H1103 V1736 H1120"/>
<g stroke="#444" stroke-width="0.8">
<rect x="1134" y="1551" width="14" height="19.5" fill="#19D9C0"/><rect x="1134" y="1570.5" width="14" height="19.6" fill="#1FD98A"/><rect x="1134" y="1590.1" width="14" height="19.5" fill="#A6A6FF"/><rect x="1134" y="1609.6" width="14" height="19.6" fill="#FF8F80"/><rect x="1134" y="1629.2" width="14" height="19.5" fill="#00C8FF"/><rect x="1134" y="1648.7" width="14" height="19.5" fill="#D4B000"/><rect x="1134" y="1668.2" width="14" height="19.6" fill="#FF66FF"/><rect x="1134" y="1687.8" width="14" height="19.5" fill="#A6C400"/><rect x="1134" y="1707.3" width="14" height="19.6" fill="#FF80C8"/><rect x="1134" y="1726.9" width="14" height="19.5" fill="#00E0FF"/><rect x="1134" y="1746.4" width="14" height="19.5" fill="#F080FF"/><rect x="1134" y="1765.9" width="14" height="19.6" fill="#FFA020"/><rect x="1134" y="1785.5" width="14" height="19.5" fill="#40C840"/>
</g>
<g class="hm">
<g transform="translate(0,1551)"><rect x="1151" fill="#2A64A8"/><rect x="1177" fill="#0B2D5E"/><rect x="1203" fill="#F4A582"/><rect x="1229" fill="#D24545"/><rect x="1255" fill="#EDE0D8"/><rect x="1281" fill="#D3E4EE"/><rect x="1307" fill="#C7E1EC"/><rect x="1333" fill="#E5E5E5"/><rect x="1359" fill="#F2A47C"/><rect x="1385" fill="#F9CBAE"/><rect x="1411" fill="#F4B08E"/><rect x="1437" fill="#F2A680"/><rect x="1463" fill="#F8BB9A"/><rect x="1489" fill="#EDE0DB"/><rect x="1515" fill="#92C5DE"/><rect x="1541" fill="#D6E6EF"/></g>
<g transform="translate(0,1570.5)"><rect x="1151" fill="#1F4F8F"/><rect x="1177" fill="#2A64A8"/><rect x="1203" fill="#EC8A70"/><rect x="1229" fill="#D4514A"/><rect x="1255" fill="#E9E3DF"/><rect x="1281" fill="#D8E6EE"/><rect x="1307" fill="#BFD9EA"/><rect x="1333" fill="#F8DDD2"/><rect x="1359" fill="#F2A482"/><rect x="1385" fill="#F8DCD2"/><rect x="1411" fill="#F8D8C8"/><rect x="1437" fill="#EF9577"/><rect x="1463" fill="#F8C0A0"/><rect x="1489" fill="#F8D8C4"/><rect x="1515" fill="#88BBD8"/><rect x="1541" fill="#E5E5E3"/></g>
<g transform="translate(0,1590.1)"><rect x="1151" fill="#2F6BB0"/><rect x="1177" fill="#0A2D5E"/><rect x="1203" fill="#E68A70"/><rect x="1229" fill="#D64A45"/><rect x="1255" fill="#FBDCC8"/><rect x="1281" fill="#E2E6E8"/><rect x="1307" fill="#B5D3E8"/><rect x="1333" fill="#E5E5E5"/><rect x="1359" fill="#F2A07A"/><rect x="1385" fill="#F9DCCD"/><rect x="1411" fill="#F5DDD4"/><rect x="1437" fill="#D5553F"/><rect x="1463" fill="#F9C4A8"/><rect x="1489" fill="#F8BFA0"/><rect x="1515" fill="#A0CDE0"/><rect x="1541" fill="#DFE6EA"/></g>
<g transform="translate(0,1609.6)"><rect x="1151" fill="#1A4A8A"/><rect x="1177" fill="#0E3264"/><rect x="1203" fill="#D24A3E"/><rect x="1229" fill="#B2182B"/><rect x="1255" fill="#E2E5E7"/><rect x="1281" fill="#D5E4EE"/><rect x="1307" fill="#BCD8EA"/><rect x="1333" fill="#C9E1EE"/><rect x="1359" fill="#F9DDD0"/><rect x="1385" fill="#F8C4A4"/><rect x="1411" fill="#F8CCB2"/><rect x="1437" fill="#FBD0B4"/><rect x="1463" fill="#F5E1DA"/><rect x="1489" fill="#FAC5A5"/><rect x="1515" fill="#E5E5E2"/><rect x="1541" fill="#FBDAD0"/></g>
<g transform="translate(0,1629.2)"><rect x="1151" fill="#1A4A8A"/><rect x="1177" fill="#123A70"/><rect x="1203" fill="#D45A4B"/><rect x="1229" fill="#B2182B"/><rect x="1255" fill="#F0E0DA"/><rect x="1281" fill="#CFE4EE"/><rect x="1307" fill="#BCD6E8"/><rect x="1333" fill="#CDE2ED"/><rect x="1359" fill="#FBD5BD"/><rect x="1385" fill="#F8C5A6"/><rect x="1411" fill="#F7BC9A"/><rect x="1437" fill="#FBDBC8"/><rect x="1463" fill="#E7E5E3"/><rect x="1489" fill="#F9C6A6"/><rect x="1515" fill="#E5E5E2"/><rect x="1541" fill="#E8E5E3"/></g>
<g transform="translate(0,1648.7)"><rect x="1151" fill="#2864A8"/><rect x="1177" fill="#3A80BD"/><rect x="1203" fill="#E06E58"/><rect x="1229" fill="#D0473F"/><rect x="1255" fill="#CFE4EE"/><rect x="1281" fill="#D4E5EE"/><rect x="1307" fill="#E5E5E5"/><rect x="1333" fill="#EDE2DC"/><rect x="1359" fill="#F9DDD0"/><rect x="1385" fill="#F9D0B8"/><rect x="1411" fill="#C2E0EC"/><rect x="1437" fill="#FBCAA8"/><rect x="1463" fill="#F9DBCC"/><rect x="1489" fill="#E8E6E3"/><rect x="1515" fill="#DCE4EA"/><rect x="1541" fill="#F7BB98"/></g>
<g transform="translate(0,1668.2)"><rect x="1151" fill="#2A64A8"/><rect x="1177" fill="#2C68AD"/><rect x="1203" fill="#E6826A"/><rect x="1229" fill="#D65645"/><rect x="1255" fill="#E5E5E2"/><rect x="1281" fill="#CDE3EE"/><rect x="1307" fill="#BCD6E8"/><rect x="1333" fill="#E9E3E0"/><rect x="1359" fill="#F7BF9E"/><rect x="1385" fill="#F9CBAB"/><rect x="1411" fill="#E5E5E2"/><rect x="1437" fill="#F5B08E"/><rect x="1463" fill="#F8C8AE"/><rect x="1489" fill="#F9DBCC"/><rect x="1515" fill="#CFE6F0"/><rect x="1541" fill="#F9D6C2"/></g>
<g transform="translate(0,1687.8)"><rect x="1151" fill="#0F356A"/><rect x="1177" fill="#2A64A8"/><rect x="1203" fill="#A51C2E"/><rect x="1229" fill="#6A001F"/><rect x="1255" fill="#F1E1DC"/><rect x="1281" fill="#FADCCC"/><rect x="1307" fill="#E47E66"/><rect x="1333" fill="#F2A782"/><rect x="1359" fill="#F9C9A6"/><rect x="1385" fill="#D9E7EF"/><rect x="1411" fill="#E5E5E2"/><rect x="1437" fill="#E7E4E1"/><rect x="1463" fill="#F5B08E"/><rect x="1489" fill="#5B9CCC"/><rect x="1515" fill="#5FA0CF"/><rect x="1541" fill="#78B4D8"/></g>
<g transform="translate(0,1707.3)"><rect x="1151" fill="#062A5A"/><rect x="1177" fill="#2A64A8"/><rect x="1203" fill="#A51C2E"/><rect x="1229" fill="#6E0A24"/><rect x="1255" fill="#F8DCD0"/><rect x="1281" fill="#FAD0B6"/><rect x="1307" fill="#E8846A"/><rect x="1333" fill="#F2A07E"/><rect x="1359" fill="#F9CAA9"/><rect x="1385" fill="#D6E6EF"/><rect x="1411" fill="#E5E5E2"/><rect x="1437" fill="#E5E5E2"/><rect x="1463" fill="#F9C8A8"/><rect x="1489" fill="#5B9CCC"/><rect x="1515" fill="#63A5D2"/><rect x="1541" fill="#7AB6D8"/></g>
<g transform="translate(0,1726.9)"><rect x="1151" fill="#4592C8"/><rect x="1177" fill="#DFE6EB"/><rect x="1203" fill="#D85A48"/><rect x="1229" fill="#E06A55"/><rect x="1255" fill="#FBDCCC"/><rect x="1281" fill="#F9D2BE"/><rect x="1307" fill="#F5B595"/><rect x="1333" fill="#F2A27F"/><rect x="1359" fill="#F9C8A8"/><rect x="1385" fill="#D9E5ED"/><rect x="1411" fill="#98C8DE"/><rect x="1437" fill="#B5D4E8"/><rect x="1463" fill="#D9E4EC"/><rect x="1489" fill="#70ACCF"/><rect x="1515" fill="#C1DCEA"/><rect x="1541" fill="#C9E2EE"/></g>
<g transform="translate(0,1746.4)"><rect x="1151" fill="#4592C8"/><rect x="1177" fill="#DFE6EB"/><rect x="1203" fill="#D8604C"/><rect x="1229" fill="#E06C56"/><rect x="1255" fill="#FADCD0"/><rect x="1281" fill="#F9CDB5"/><rect x="1307" fill="#F7BD9C"/><rect x="1333" fill="#F2A27F"/><rect x="1359" fill="#FAD2BC"/><rect x="1385" fill="#DCE5EA"/><rect x="1411" fill="#98C8DE"/><rect x="1437" fill="#BCD6EA"/><rect x="1463" fill="#DDE5EA"/><rect x="1489" fill="#70ACCF"/><rect x="1515" fill="#C4DBEA"/><rect x="1541" fill="#CDE3EE"/></g>
<g transform="translate(0,1765.9)"><rect x="1151" fill="#1F5597"/><rect x="1177" fill="#B2D0E6"/><rect x="1203" fill="#D43F3C"/><rect x="1229" fill="#C0283A"/><rect x="1255" fill="#E5E5E2"/><rect x="1281" fill="#F5DFDA"/><rect x="1307" fill="#E07461"/><rect x="1333" fill="#F2A582"/><rect x="1359" fill="#F3A581"/><rect x="1385" fill="#CBE3EE"/><rect x="1411" fill="#C9E2EE"/><rect x="1437" fill="#B5D3E8"/><rect x="1463" fill="#D3E6EE"/><rect x="1489" fill="#5B9CCC"/><rect x="1515" fill="#B0D0E6"/><rect x="1541" fill="#CDE2EE"/></g>
<g transform="translate(0,1785.5)"><rect x="1151" fill="#3A7FBD"/><rect x="1177" fill="#A4C9E3"/><rect x="1203" fill="#E2745C"/><rect x="1229" fill="#B2182B"/><rect x="1255" fill="#C5E0ED"/><rect x="1281" fill="#D6E6EF"/><rect x="1307" fill="#F4A582"/><rect x="1333" fill="#EF9C7C"/><rect x="1359" fill="#FDE5D8"/><rect x="1385" fill="#E5E5E5"/><rect x="1411" fill="#E0E5EA"/><rect x="1437" fill="#CDE3EE"/><rect x="1463" fill="#ECE4E0"/><rect x="1489" fill="#5B9CCC"/><rect x="1515" fill="#E5E5E2"/><rect x="1541" fill="#D9E5EC"/></g>
</g>
<g class="tk" font-size="18" font-weight="400" text-anchor="end">
<text transform="translate(1170,1808) rotate(-90)">CG</text><text transform="translate(1196,1808) rotate(-90)">TA</text><text transform="translate(1222,1808) rotate(-90)">CA</text><text transform="translate(1248,1808) rotate(-90)">TG</text><text transform="translate(1274,1808) rotate(-90)">AG</text><text transform="translate(1300,1808) rotate(-90)">GT</text><text transform="translate(1326,1808) rotate(-90)">AC</text><text transform="translate(1352,1808) rotate(-90)">GC</text><text transform="translate(1378,1808) rotate(-90)">CT</text><text transform="translate(1404,1808) rotate(-90)">CC</text><text transform="translate(1430,1808) rotate(-90)">GA</text><text transform="translate(1456,1808) rotate(-90)">AA</text><text transform="translate(1482,1808) rotate(-90)">TT</text><text transform="translate(1508,1808) rotate(-90)">TC</text><text transform="translate(1534,1808) rotate(-90)">AT</text><text transform="translate(1560,1808) rotate(-90)">GG</text>
</g>
</g>
</svg>
